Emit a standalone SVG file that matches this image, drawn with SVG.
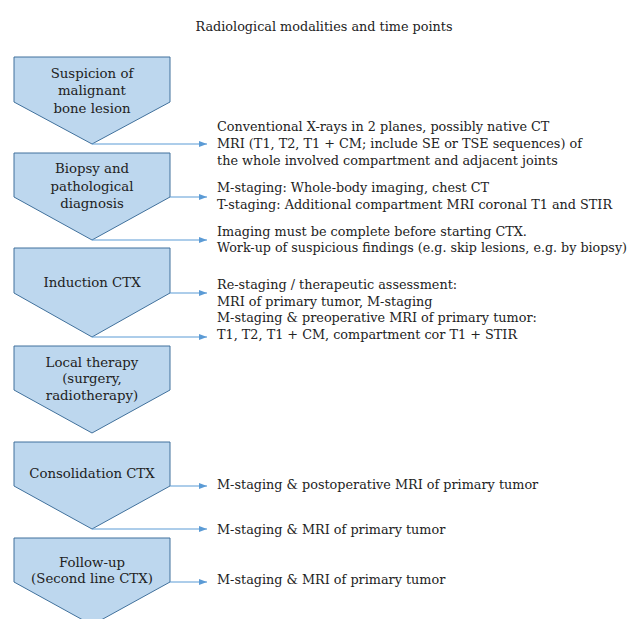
<svg xmlns="http://www.w3.org/2000/svg" width="633" height="619" viewBox="0 0 633 619">
<style>
.node{fill:#bdd7ee;stroke:#41719c;stroke-width:1}
.nt{font-family:'DejaVu Serif',serif;font-size:13.3px;fill:#222;text-anchor:middle}
.rt{font-family:'DejaVu Serif',serif;font-size:12.8px;fill:#222}
.title{font-family:'DejaVu Serif',serif;font-size:12.8px;fill:#222;text-anchor:middle}
.conn{stroke:#5b9bd5;stroke-width:1;fill:none;marker-end:url(#ah)}
</style>
<defs>
<marker id="ah" markerWidth="8" markerHeight="6" refX="8" refY="3" orient="auto" markerUnits="userSpaceOnUse">
<path d="M0,0 L8,3 L0,6 Z" fill="#5b9bd5"/>
</marker>
</defs>
<rect width="633" height="619" fill="#ffffff"/>
<text class="title" x="324" y="31">Radiological modalities and time points</text>
<g id="n1"><polygon class="node" points="14,57 170,57 170,102 92,144 14,102"/>
<text class="nt" x="92" y="78">Suspicion of</text><text class="nt" x="92" y="95">malignant</text><text class="nt" x="92" y="113">bone lesion</text></g>
<g id="n2"><polygon class="node" points="14,153 170,153 170,197 92,240 14,197"/>
<text class="nt" x="92" y="173">Biopsy and</text><text class="nt" x="92" y="191">pathological</text><text class="nt" x="92" y="208">diagnosis</text></g>
<g id="n3"><polygon class="node" points="14,248 170,248 170,293 92,337 14,293"/>
<text class="nt" x="92" y="287">Induction CTX</text></g>
<g id="n4"><polygon class="node" points="14,346 170,346 170,390 92,433 14,390"/>
<text class="nt" x="92" y="367">Local therapy</text><text class="nt" x="92" y="383">(surgery,</text><text class="nt" x="92" y="400">radiotherapy)</text></g>
<g id="n5"><polygon class="node" points="14,442 170,442 170,486 92,529 14,486"/>
<text class="nt" x="92" y="478">Consolidation CTX</text></g>
<g id="n6"><polygon class="node" points="14,538 170,538 170,582 92,625 14,582"/>
<text class="nt" x="92" y="567">Follow-up</text><text class="nt" x="92" y="583">(Second line CTX)</text></g>
<g id="connectors">
<line class="conn" x1="92" y1="144" x2="207" y2="144"/>
<line class="conn" x1="170" y1="197" x2="207" y2="197"/>
<line class="conn" x1="92" y1="240" x2="207" y2="240"/>
<line class="conn" x1="170" y1="293" x2="207" y2="293"/>
<line class="conn" x1="92" y1="337" x2="207" y2="337"/>
<line class="conn" x1="170" y1="486" x2="207" y2="486"/>
<line class="conn" x1="92" y1="529" x2="207" y2="529"/>
<line class="conn" x1="170" y1="582" x2="207" y2="582"/>
</g>
<g id="labels">
<text class="rt" x="217" y="131">Conventional X-rays in 2 planes, possibly native CT</text>
<text class="rt" x="217" y="148">MRI (T1, T2, T1 + CM; include SE or TSE sequences) of</text>
<text class="rt" x="217" y="165">the whole involved compartment and adjacent joints</text>
<text class="rt" x="217" y="192">M-staging: Whole-body imaging, chest CT</text>
<text class="rt" x="217" y="209">T-staging: Additional compartment MRI coronal T1 and STIR</text>
<text class="rt" x="217" y="236">Imaging must be complete before starting CTX.</text>
<text class="rt" x="217" y="252" textLength="410" lengthAdjust="spacingAndGlyphs">Work-up of suspicious findings (e.g. skip lesions, e.g. by biopsy)</text>
<text class="rt" x="217" y="289">Re-staging / therapeutic assessment:</text>
<text class="rt" x="217" y="306">MRI of primary tumor, M-staging</text>
<text class="rt" x="217" y="322">M-staging &amp; preoperative MRI of primary tumor:</text>
<text class="rt" x="217" y="339">T1, T2, T1 + CM, compartment cor T1 + STIR</text>
<text class="rt" x="217" y="489">M-staging &amp; postoperative MRI of primary tumor</text>
<text class="rt" x="217" y="534">M-staging &amp; MRI of primary tumor</text>
<text class="rt" x="217" y="584">M-staging &amp; MRI of primary tumor</text>
</g>
</svg>
